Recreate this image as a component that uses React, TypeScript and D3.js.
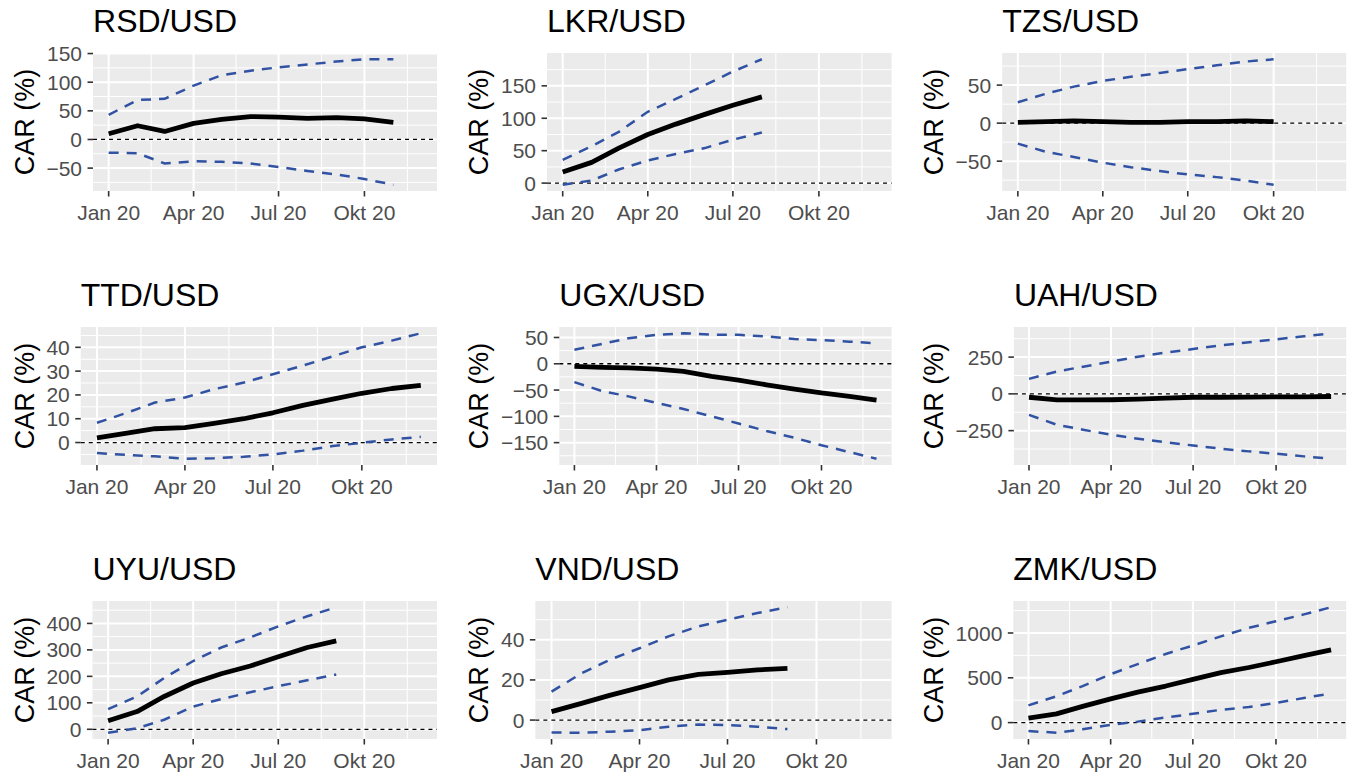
import * as d3 from "d3";

// monthly observation dates (first of month, 2020)
const MONTHS = [
  "2020-01-01", "2020-02-01", "2020-03-01", "2020-04-01", "2020-05-01", "2020-06-01",
  "2020-07-01", "2020-08-01", "2020-09-01", "2020-10-01", "2020-11-01", "2020-12-01",
].map((s) => new Date(s + "T00:00:00Z"));

const X_BREAKS = ["2020-01-01", "2020-04-01", "2020-07-01", "2020-10-01"].map(
  (s) => new Date(s + "T00:00:00Z"),
);
const X_LABELS = ["Jan 20", "Apr 20", "Jul 20", "Okt 20"];

const rsdCar = [10, 24, 14, 28, 35, 40, 39, 37, 38, 36, 30];
const rsdUpper = [43, 69, 71, 94, 112, 120, 126, 131, 136, 140, 140];
const rsdLower = [-23, -24, -42, -38, -39, -42, -48, -55, -61, -69, -79];
const rsdTicks = [-50, 0, 50, 100, 150];

const lkrCar = [17, 32, 54, 75, 91, 106, 120, 133];
const lkrUpper = [36, 57, 79, 110, 130, 151, 172, 191];
const lkrLower = [-2.5, 4, 21, 35, 45, 54, 67, 78];
const lkrTicks = [0, 50, 100, 150];

const tzsCar = [1, 2, 3, 2, 1, 1, 2, 2, 3, 2];
const tzsUpper = [27.5, 39, 48, 55.5, 61, 66, 71, 76, 81, 84];
const tzsLower = [-27, -38, -44.5, -52, -58, -63, -67.5, -71, -75.6, -81];
const tzsTicks = [-50, 0, 50];

const ttdCar = [2, 4, 5.8, 6.3, 8, 10, 12.5, 15.6, 18.2, 20.7, 22.7, 24];
const ttdUpper = [8.3, 12.5, 16.8, 18.9, 22.4, 25.2, 28.7, 32.3, 36.2, 40, 42.8, 45.9];
const ttdLower = [-4.4, -5.2, -5.8, -6.8, -6.6, -6, -5, -3.4, -1.5, -0.1, 1.3, 2.4];
const ttdTicks = [0, 10, 20, 30, 40];

const ugxCar = [-5, -7, -8, -10, -14.5, -24, -31, -40, -48, -55.5, -62, -69];
const ugxUpper = [26.5, 38, 48.6, 55, 58, 55.5, 55, 52, 47, 45, 42, 39];
const ugxLower = [-35, -52, -62, -74.5, -86, -100, -113.6, -128, -140.7, -155, -168, -180.6];
const ugxTicks = [-150, -100, -50, 0, 50];

const uahCar = [-23, -41, -41, -40, -36, -29, -23, -23, -22, -20, -20, -18];
const uahUpper = [102, 152, 185, 219, 253, 281, 305, 330, 351, 371, 391, 412];
const uahLower = [-143, -210, -244, -278, -305, -330, -351, -373, -391, -407, -425, -441];
const uahTicks = [-250, 0, 250];

const uyuCar = [32, 67, 124, 175, 210, 239, 274, 309, 334];
const uyuUpper = [76, 124, 194, 258, 309, 347, 389, 427, 461];
const uyuLower = [-13, 4, 36, 86, 114, 140, 163, 185, 207];
const uyuTicks = [0, 100, 200, 300, 400];

const vndCar = [4.2, 8.3, 12.3, 16.2, 20, 22.8, 23.8, 25, 25.8];
const vndUpper = [14.2, 23.3, 30, 35.8, 41.7, 46.7, 50, 53.3, 56.2];
const vndLower = [-6.2, -6.3, -5.8, -5, -3.3, -2.2, -2.5, -3.3, -4.5];
const vndTicks = [0, 20, 40];

const zmkCar = [49, 98, 181, 264, 340, 408, 483, 558, 615, 679, 747, 811];
const zmkUpper = [192, 294, 408, 540, 653, 766, 860, 962, 1057, 1132, 1208, 1287];
const zmkLower = [-94, -113, -75, -26, 11, 57, 98, 143, 174, 219, 275, 325];
const zmkTicks = [0, 500, 1000];

const PANELS = [
  { title: "RSD/USD", car: rsdCar, upper: rsdUpper, lower: rsdLower, ticks: rsdTicks },
  { title: "LKR/USD", car: lkrCar, upper: lkrUpper, lower: lkrLower, ticks: lkrTicks },
  { title: "TZS/USD", car: tzsCar, upper: tzsUpper, lower: tzsLower, ticks: tzsTicks },
  { title: "TTD/USD", car: ttdCar, upper: ttdUpper, lower: ttdLower, ticks: ttdTicks },
  { title: "UGX/USD", car: ugxCar, upper: ugxUpper, lower: ugxLower, ticks: ugxTicks },
  { title: "UAH/USD", car: uahCar, upper: uahUpper, lower: uahLower, ticks: uahTicks },
  { title: "UYU/USD", car: uyuCar, upper: uyuUpper, lower: uyuLower, ticks: uyuTicks },
  { title: "VND/USD", car: vndCar, upper: vndUpper, lower: vndLower, ticks: vndTicks },
  { title: "ZMK/USD", car: zmkCar, upper: zmkUpper, lower: zmkLower, ticks: zmkTicks },
];

const FONT = '"Liberation Sans", Arial, Helvetica, sans-serif';
const TICK_SIZE = 21;
const COL_X = [0, 454.6, 909.2];
const ROW_Y = [53, 327, 601];
const PANEL_H = 138;
const BLUE = "#3152a3";

let ctx: CanvasRenderingContext2D | null = null;
function textWidth(s: string) {
  if (!ctx) ctx = document.createElement("canvas").getContext("2d");
  if (!ctx) return s.length * TICK_SIZE * 0.556;
  ctx.font = `${TICK_SIZE}px ${FONT}`;
  return ctx.measureText(s).width;
}

const fmt = (v: number) => (v < 0 ? "\u2212" + Math.abs(v) : String(v));

// ggplot-style minor breaks: midpoints between majors, one step beyond each end
function minorBreaks(major: number[], lo: number, hi: number) {
  const step = major[1] - major[0];
  const ext = [major[0] - step, ...major, major[major.length - 1] + step];
  const out: number[] = [];
  for (let i = 0; i < ext.length - 1; i++) {
    const m = (ext[i] + ext[i + 1]) / 2;
    if (m >= lo && m <= hi) out.push(m);
  }
  return out;
}

function Panel({ p, idx }: { p: (typeof PANELS)[number]; idx: number }) {
  const col = idx % 3;
  const row = Math.floor(idx / 3);
  const x0 = COL_X[col];
  const labelW = d3.max(p.ticks, (t) => textWidth(fmt(t))) ?? 0;
  const left = x0 + 57.4 + labelW;
  const right = x0 + 437;
  const top = ROW_Y[row];
  const bottom = top + PANEL_H;

  const t0 = MONTHS[0].getTime();
  const t1 = MONTHS[MONTHS.length - 1].getTime();
  const pad = (t1 - t0) * 0.05;
  const x = d3
    .scaleUtc()
    .domain([new Date(t0 - pad), new Date(t1 + pad)])
    .range([left, right]);

  const all = [...p.car, ...p.upper, ...p.lower, 0];
  const [lo, hi] = d3.extent(all) as [number, number];
  const ypad = (hi - lo) * 0.05;
  const y = d3
    .scaleLinear()
    .domain([lo - ypad, hi + ypad])
    .range([bottom, top]);

  const xd = x.domain().map((d) => d.getTime());
  const xExt = [
    d3.utcMonth.offset(X_BREAKS[0], -3),
    ...X_BREAKS,
    d3.utcMonth.offset(X_BREAKS[X_BREAKS.length - 1], 3),
  ];
  const xMinor: Date[] = [];
  for (let i = 0; i < xExt.length - 1; i++) {
    const m = (xExt[i].getTime() + xExt[i + 1].getTime()) / 2;
    if (m >= xd[0] && m <= xd[1]) xMinor.push(new Date(m));
  }
  const yMinor = minorBreaks(p.ticks, y.domain()[0], y.domain()[1]);

  const line = d3
    .line<number>()
    .x((_, i) => x(MONTHS[i]))
    .y((v) => y(v));

  return (
    <g>
      <text x={left} y={top - 21} fontSize={32} fill="#000">
        {p.title}
      </text>
      <text
        transform={`translate(${x0 + 33.5},${(top + bottom) / 2}) rotate(-90)`}
        textAnchor="middle"
        fontSize={27}
        fill="#000"
      >
        CAR (%)
      </text>
      <rect x={left} y={top} width={right - left} height={bottom - top} fill="#ebebeb" />
      {yMinor.map((v) => (
        <line key={"ym" + v} x1={left} x2={right} y1={y(v)} y2={y(v)} stroke="#fff" strokeWidth={1} />
      ))}
      {xMinor.map((d) => (
        <line key={"xm" + d.getTime()} x1={x(d)} x2={x(d)} y1={top} y2={bottom} stroke="#fff" strokeWidth={1} />
      ))}
      {p.ticks.map((v) => (
        <line key={"yM" + v} x1={left} x2={right} y1={y(v)} y2={y(v)} stroke="#fff" strokeWidth={2} />
      ))}
      {X_BREAKS.map((d) => (
        <line key={"xM" + d.getTime()} x1={x(d)} x2={x(d)} y1={top} y2={bottom} stroke="#fff" strokeWidth={2} />
      ))}
      <line
        x1={left}
        x2={right}
        y1={y(0)}
        y2={y(0)}
        stroke="#000"
        strokeWidth={1.3}
        strokeDasharray="4,4"
      />
      <path d={line(p.upper) ?? ""} fill="none" stroke={BLUE} strokeWidth={2.5} strokeDasharray="10,8" />
      <path d={line(p.lower) ?? ""} fill="none" stroke={BLUE} strokeWidth={2.5} strokeDasharray="10,8" />
      <path d={line(p.car) ?? ""} fill="none" stroke="#000" strokeWidth={4.8} strokeLinejoin="round" />
      {p.ticks.map((v) => (
        <g key={"yt" + v}>
          <line x1={left - 5.5} x2={left} y1={y(v)} y2={y(v)} stroke="#333" strokeWidth={1.6} />
          <text x={left - 11} y={y(v)} dy="0.36em" textAnchor="end" fontSize={TICK_SIZE} fill="#4d4d4d">
            {fmt(v)}
          </text>
        </g>
      ))}
      {X_BREAKS.map((d, i) => (
        <g key={"xt" + i}>
          <line x1={x(d)} x2={x(d)} y1={bottom} y2={bottom + 5.5} stroke="#333" strokeWidth={1.6} />
          <text x={x(d)} y={bottom + 29} textAnchor="middle" fontSize={TICK_SIZE} fill="#4d4d4d">
            {X_LABELS[i]}
          </text>
        </g>
      ))}
    </g>
  );
}

export default function App() {
  return (
    <svg
      width={1351}
      height={776}
      style={{ position: "absolute", left: 0, top: 0, background: "#fff" }}
      fontFamily={FONT}
    >
      <rect width={1351} height={776} fill="#fff" />
      {PANELS.map((p, i) => (
        <Panel key={p.title} p={p} idx={i} />
      ))}
    </svg>
  );
}
